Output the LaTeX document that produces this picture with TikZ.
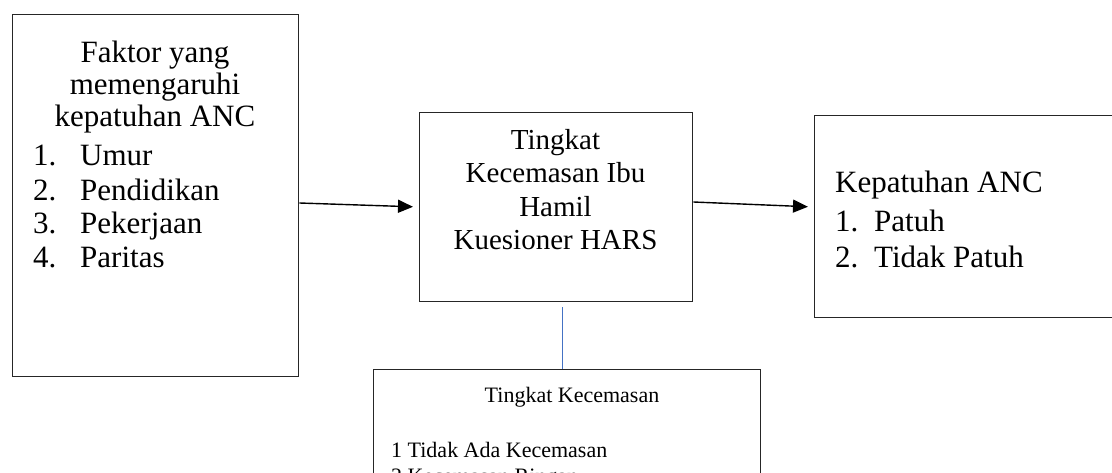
\documentclass[tikz,border=0pt]{standalone}
\usepackage{fontspec}
\setmainfont{Liberation Serif}
\usetikzlibrary{arrows.meta}
\definecolor{linkblue}{RGB}{68,114,196}
\tikzset{
  box/.style={draw=black!85, line width=1.3pt, inner sep=0pt, anchor=north west},
  flow/.style={-{Triangle[length=15pt,width=13pt]}, line width=1.4pt, shorten >=6pt},
  bigtext/.style={font=\fontsize{31}{36}\selectfont, inner sep=0pt, anchor=base},
  midtext/.style={font=\fontsize{29}{33}\selectfont, inner sep=0pt, anchor=base},
  smalltext/.style={font=\fontsize{22}{26}\selectfont, inner sep=0pt, anchor=base}
}
\begin{document}
\begin{tikzpicture}[x=1pt, y=-1pt]
  \useasboundingbox (0,0) rectangle (1112,473);
  \clip (0,0) rectangle (1112,473);
  % kotak-kotak
  \node[box, minimum width=286pt, minimum height=362pt] (faktor) at (12,14) {};
  \node[box, minimum width=273pt, minimum height=189pt] (cemas) at (419,112) {};
  \node[box, minimum width=330pt, minimum height=202pt] (patuh) at (814,115) {};
  \node[box, minimum width=387pt, minimum height=160pt] (skala) at (373,369) {};
  % teks kotak kiri
  \node[bigtext] (f1) at (155,63) {Faktor yang};
  \node[bigtext] (f2) at (155,95) {memengaruhi};
  \node[bigtext] (f3) at (155,127) {kepatuhan ANC};
  \foreach \n/\t/\y in {1/Umur/166, 2/Pendidikan/201, 3/Pekerjaan/234, 4/Paritas/268} {
    \node[bigtext, anchor=base west] (fn\n) at (33,\y) {\n.};
    \node[bigtext, anchor=base west] (ft\n) at (80,\y) {\t};
  }
  % teks kotak tengah
  \node[midtext] (c1) at (555.5,150) {Tingkat};
  \node[midtext] (c2) at (555.5,183) {Kecemasan Ibu};
  \node[midtext] (c3) at (555.5,217) {Hamil};
  \node[midtext] (c4) at (555.5,250) {Kuesioner HARS};
  % teks kotak kanan
  \node[bigtext, anchor=base west] (p0) at (835,193) {Kepatuhan ANC};
  \node[bigtext, anchor=base west] (pn1) at (835,232) {1.};
  \node[bigtext, anchor=base west] (pt1) at (874,232) {Patuh};
  \node[bigtext, anchor=base west] (pn2) at (835,268) {2.};
  \node[bigtext, anchor=base west] (pt2) at (874,268) {Tidak Patuh};
  % teks kotak bawah
  \node[smalltext] (s0) at (572,402) {Tingkat Kecemasan};
  \node[smalltext, anchor=base west] (s1) at (391,457) {1 Tidak Ada Kecemasan};
  \node[smalltext, anchor=base west] (s2) at (391,483) {2 Kecemasan Ringan};
  % panah
  \coordinate (ya) at (0,203);
  \coordinate (yb) at (0,207);
  \coordinate (yc) at (0,202);
  \coordinate (xl) at (562.5,0);
  \draw[flow] (faktor.east |- ya) -- (cemas.west |- yb);
  \draw[flow] (cemas.east |- yc) -- (patuh.west |- yb);
  \draw[linkblue, line width=1.2pt, shorten <=5pt] (cemas.south -| xl) -- (skala.north -| xl);
\end{tikzpicture}
\end{document}
